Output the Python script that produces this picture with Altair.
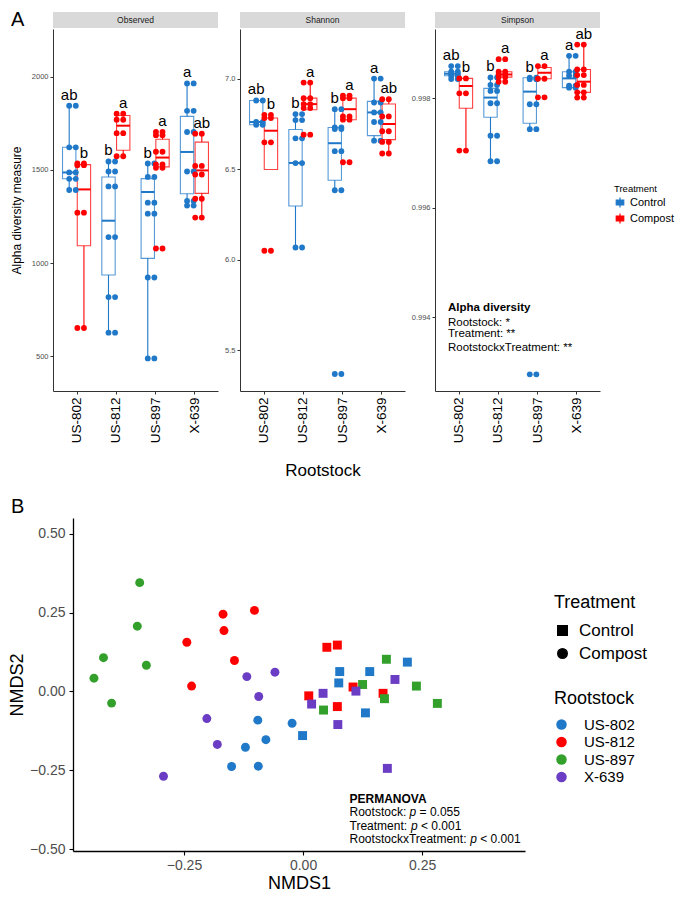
import json
import altair as alt
import pandas as pd

FONT = "Liberation Sans"
BLUE = "#1F78C8"
RED = "#FF0000"
GREEN = "#33A02C"
PURPLE = "#6A3DC4"

rootstocks = ["US-802", "US-812", "US-897", "X-639"]
treatments = ["Control", "Compost"]

letters_control = ["ab", "b", "b", "a"]
letters_compost = ["b", "a", "a", "ab"]

# ---------------- Panel A: alpha diversity ----------------
observed_control_points = [[1844, 1621, 1486, 1452, 1392],
                           [1545, 1491, 1411, 1139, 817, 626],
                           [1534, 1462, 1324, 1265, 922, 488],
                           [1964, 1817, 1703, 1491, 1333, 1308]]
observed_compost_points = [[1534, 1525, 1270, 651],
                           [1801, 1769, 1697, 1573],
                           [1704, 1686, 1597, 1529, 1511, 1078],
                           [1694, 1521, 1475, 1345, 1244]]
# box stats: q1, median, q3, lower whisker, upper whisker
observed_control_box = [[1452, 1486, 1621, 1392, 1844],
                        [936, 1227, 1462, 626, 1545],
                        [1025, 1381, 1453, 488, 1534],
                        [1372, 1596, 1787, 1308, 1964]]
observed_compost_box = [[1093, 1395, 1528, 651, 1534],
                        [1605, 1737, 1792, 1573, 1801],
                        [1516, 1566, 1664, 1511, 1704],
                        [1374, 1497, 1649, 1244, 1694]]

shannon_control_points = [[6.881, 6.762, 6.747],
                          [6.806, 6.773, 6.672, 6.535, 6.069],
                          [6.833, 6.732, 6.723, 6.601, 6.385, 5.37],
                          [7.002, 6.870, 6.815, 6.762, 6.659]]
shannon_compost_points = [[6.802, 6.784, 6.65, 6.051],
                          [6.980, 6.894, 6.861, 6.839, 6.692],
                          [6.908, 6.894, 6.793, 6.775, 6.54],
                          [6.888, 6.793, 6.711, 6.652, 6.588]]
shannon_control_box = [[6.747, 6.762, 6.881, 6.747, 6.881],
                       [6.298, 6.536, 6.721, 6.069, 6.806],
                       [6.44, 6.645, 6.732, 6.385, 6.833],
                       [6.687, 6.815, 6.876, 6.659, 7.002]]
shannon_compost_box = [[6.50, 6.714, 6.784, 6.50, 6.802],
                       [6.830, 6.861, 6.894, 6.830, 6.980],
                       [6.775, 6.833, 6.894, 6.775, 6.908],
                       [6.665, 6.751, 6.862, 6.588, 6.888]]

simpson_control_points = [[0.998589, 0.998485, 0.998449, 0.998413, 0.998353],
                          [0.998382, 0.998243, 0.998135, 0.997909, 0.997316, 0.996849],
                          [0.998376, 0.998350, 0.997891, 0.997436, 0.992953],
                          [0.998776, 0.998485, 0.998413, 0.998231, 0.998195]]
simpson_compost_points = [[0.998364, 0.998091, 0.997044],
                          [0.998716, 0.998485, 0.998436, 0.998388, 0.998303],
                          [0.998589, 0.998358, 0.998018],
                          [0.998982, 0.998527, 0.998425, 0.998244, 0.998109, 0.998013]]
simpson_control_box = [[0.998413, 0.998449, 0.998485, 0.998353, 0.998589],
                       [0.997655, 0.998013, 0.998182, 0.996849, 0.998382],
                       [0.997545, 0.998122, 0.998376, 0.997436, 0.998376],
                       [0.998195, 0.998364, 0.998485, 0.998195, 0.998776]]
simpson_compost_box = [[0.997818, 0.998225, 0.998364, 0.997044, 0.998364],
                       [0.998388, 0.998436, 0.998485, 0.998303, 0.998485],
                       [0.998358, 0.998467, 0.998564, 0.998358, 0.998589],
                       [0.998109, 0.998304, 0.998527, 0.998013, 0.998982]]

alpha_note_lines = ["Rootstock: *", "Treatment: **", "RootstockxTreatment: **"]

# ---------------- Panel B: NMDS ----------------
nmds1_control = [[-0.001, 0.077, 0.075, 0.140, 0.219, 0.131],
                 [0.050, 0.072, 0.012, 0.105, 0.168, 0.072],
                 [0.175, 0.125, 0.238, 0.171, 0.282, 0.043],
                 [0.042, 0.018, 0.111, 0.193, 0.073, 0.177]]
nmds2_control = [[-0.140, 0.063, 0.027, 0.063, 0.093, -0.068],
                 [0.140, 0.147, -0.014, 0.014, -0.006, -0.048],
                 [0.102, 0.022, 0.017, -0.023, -0.038, -0.059],
                 [-0.006, -0.040, 0.001, 0.038, -0.105, -0.244]]
nmds1_compost = [[-0.095, -0.023, -0.078, -0.121, -0.150, -0.094],
                 [-0.168, -0.102, -0.166, -0.244, -0.144, -0.234],
                 [-0.343, -0.348, -0.419, -0.329, -0.439, -0.402],
                 [-0.118, -0.059, -0.093, -0.202, -0.180, -0.293]]
nmds2_compost = [[-0.091, -0.101, -0.153, -0.177, -0.238, -0.237],
                 [0.245, 0.257, 0.193, 0.156, 0.098, 0.017],
                 [0.345, 0.207, 0.107, 0.083, 0.042, -0.037],
                 [0.047, 0.061, -0.016, -0.086, -0.168, -0.269]]

permanova_labels = ["Rootstock: ", "Treatment: ", "RootstockxTreatment: "]
permanova_values = ["= 0.055", "< 0.001", "< 0.001"]

# ---------------- build panel A ----------------
PW, PH = 165, 362
SHIFT = 20  # Observed panel extends this far left of the row origin
DODGE, HALF, JIT = 0.1875, 0.17, 0.02
cscale = alt.Scale(domain=treatments, range=[BLUE, RED])
label_expr = json.dumps(rootstocks) + "[datum.value - 1]"


def frames(ctrl_pts, comp_pts, ctrl_box, comp_box):
    box_rows, pt_rows = [], []
    for t, pts, box, lets in [("Control", ctrl_pts, ctrl_box, letters_control),
                              ("Compost", comp_pts, comp_box, letters_compost)]:
        sign = -1 if t == "Control" else 1
        for i, r in enumerate(rootstocks):
            c = i + 1
            xc = c + sign * DODGE
            q1, med, q3, lo, hi = box[i]
            box_rows.append(dict(rootstock=r, treatment=t, xc=xc, x1=xc - HALF, x2=xc + HALF,
                                 q1=q1, med=med, q3=q3, lo=lo, hi=hi,
                                 top=max([hi] + pts[i]), letter=lets[i]))
            for v in pts[i]:
                pt_rows.append(dict(rootstock=r, treatment=t, x=xc, value=v))
                pt_rows.append(dict(rootstock=r, treatment=t, x=c + sign * JIT, value=v))
    return pd.DataFrame(box_rows), pd.DataFrame(pt_rows)


def alpha_panel(name, ctrl_pts, comp_pts, ctrl_box, comp_box, domain, ticks, fmt,
                y_title=None, x_title=None, show_legend=False, panel_label=None, note=None,
                shift=0):
    boxes, pts = frames(ctrl_pts, comp_pts, ctrl_box, comp_box)
    w = PW - shift
    if shift:
        xs = alt.Scale(domain=[0.4, 4.6], nice=False, zero=False, range=[-shift, w])
    else:
        xs = alt.Scale(domain=[0.4, 4.6], nice=False, zero=False)
    ys = alt.Scale(domain=domain, nice=False, zero=False)
    xaxis = alt.Axis(values=[1, 2, 3, 4], labelExpr=label_expr, labelAngle=270,
                     labelFontSize=13.5, labelColor="black", labelPadding=3,
                     tickSize=3, tickColor="#333333", domainColor="#333333",
                     grid=False, title=x_title, titleFontSize=17,
                     titleFontWeight="normal", titlePadding=20, titleColor="black")
    yaxis = alt.Axis(values=ticks, format=fmt, labelFontSize=7.5, labelColor="#4D4D4D",
                     labelPadding=2, tickSize=3, tickColor="#333333",
                     domainColor="#333333", grid=False, title=y_title,
                     titleFontSize=12, titleFontWeight="normal", titleColor="black",
                     titlePadding=8, offset=shift)
    if show_legend:
        legend = alt.Legend(orient="none", legendX=w + 14, legendY=155, title="Treatment",
                            titleFontSize=9.5, titleFontWeight="normal", titleColor="black",
                            labelFontSize=11, labelColor="black", padding=0,
                            symbolType="M-0.75,-0.5H0.75V0.5H-0.75Z M-0.75,0H0.75 M0,-0.5V-1 M0,0.5V1",
                            symbolSize=100, symbolStrokeWidth=1.2, symbolFillColor="white",
                            rowPadding=0, titlePadding=3, labelOffset=4)
    else:
        legend = None

    lab = pd.DataFrame({"label": [name]})
    strip = alt.Chart(lab).mark_rect(fill="#D9D9D9").encode(
        x=alt.value(-shift), x2=alt.value(w), y=alt.value(-17), y2=alt.value(-1))
    strip_text = alt.Chart(lab).mark_text(fontSize=8.5, color="#1A1A1A").encode(
        x=alt.value((w - shift) / 2), y=alt.value(-9), text="label:N")

    bb = alt.Chart(boxes)
    col = alt.Color("treatment:N", scale=cscale, legend=None)
    rect = bb.mark_rect(fill="white", strokeWidth=1.1, strokeOpacity=0.75).encode(
        x=alt.X("x1:Q", scale=xs, axis=xaxis), x2="x2:Q",
        y=alt.Y("q1:Q", scale=ys, axis=yaxis), y2="q3:Q",
        stroke=alt.Stroke("treatment:N", scale=cscale, legend=legend))
    upper = bb.mark_rule(strokeWidth=1.1).encode(x="xc:Q", y="q3:Q", y2="hi:Q", color=col)
    lower = bb.mark_rule(strokeWidth=1.1).encode(x="xc:Q", y="lo:Q", y2="q1:Q", color=col)
    median = bb.mark_rule(strokeWidth=2).encode(x="x1:Q", x2="x2:Q", y="med:Q", color=col)
    points = alt.Chart(pts).mark_circle(size=34, opacity=1).encode(
        x="x:Q", y="value:Q", color=col)
    letters = bb.mark_text(baseline="bottom", dy=-3, fontSize=15, color="black").encode(
        x="xc:Q", y="top:Q", text="letter:N")
    layers = [strip, strip_text, rect, upper, lower, median, points, letters]
    if panel_label:
        layers.append(alt.Chart(pd.DataFrame({"t": [panel_label]})).mark_text(
            fontSize=20, align="left", baseline="middle", color="black").encode(
            x=alt.value(-shift - 42), y=alt.value(-9), text="t:N"))
    if note:
        layers += note
    return alt.layer(*layers).properties(width=w, height=PH)


# Simpson annotation (data coordinates)
note_title = alt.Chart(pd.DataFrame({"x": [0.73], "y": [0.994158], "t": ["Alpha diversity"]})).mark_text(
    align="left", baseline="middle", fontSize=11.5, fontWeight="bold", color="black").encode(
    x="x:Q", y="y:Q", text="t:N")
note_body = alt.Chart(pd.DataFrame({"x": [0.73] * 3, "y": [0.993884, 0.993684, 0.993429],
                                    "t": alpha_note_lines})).mark_text(
    align="left", baseline="middle", fontSize=11.5, color="black").encode(
    x="x:Q", y="y:Q", text="t:N")

obs = alpha_panel("Observed", observed_control_points, observed_compost_points,
                  observed_control_box, observed_compost_box, [313, 2256],
                  [500, 1000, 1500, 2000], "d", y_title="Alpha diversity measure",
                  panel_label="A", shift=SHIFT)
sha = alpha_panel("Shannon", shannon_control_points, shannon_compost_points,
                  shannon_control_box, shannon_compost_box, [5.276, 7.276],
                  [5.5, 6.0, 6.5, 7.0], ".1f", x_title="Rootstock")
sim = alpha_panel("Simpson", simpson_control_points, simpson_compost_points,
                  simpson_control_box, simpson_compost_box, [0.992649, 0.999267],
                  [0.994, 0.996, 0.998], ".3f", show_legend=True,
                  note=[note_title, note_body])

left_pair = alt.hconcat(obs, sha, spacing=6 - SHIFT).resolve_scale(
    color="independent", stroke="independent")
top = alt.hconcat(left_pair, sim, spacing=6).resolve_scale(
    color="independent", stroke="independent")

# ---------------- build panel B ----------------
rows = []
for t, xs_, ys_ in [("Control", nmds1_control, nmds2_control),
                    ("Compost", nmds1_compost, nmds2_compost)]:
    for i, r in enumerate(rootstocks):
        for a, b in zip(xs_[i], ys_[i]):
            rows.append(dict(NMDS1=a, NMDS2=b, Rootstock=r, Treatment=t))
nmds_df = pd.DataFrame(rows)

NW, NH = 452, 333
ax_common = dict(labelFontSize=14, labelColor="#4D4D4D", tickSize=4, tickColor="black",
                 domainColor="black", domainWidth=1.3, tickWidth=1.1, grid=False,
                 titleFontSize=18, titleFontWeight="normal", titleColor="black")
pts_b = alt.Chart(nmds_df).mark_point(filled=True, opacity=1, size=80).encode(
    x=alt.X("NMDS1:Q", scale=alt.Scale(domain=[-0.483, 0.466], nice=False, zero=False),
            axis=alt.Axis(values=[-0.25, 0, 0.25], format=".2f", labelPadding=3,
                          titlePadding=2, title="NMDS1", **ax_common)),
    y=alt.Y("NMDS2:Q", scale=alt.Scale(domain=[-0.506, 0.55], nice=False, zero=False),
            axis=alt.Axis(values=[-0.5, -0.25, 0, 0.25, 0.5], format=".2f", labelPadding=4,
                          titlePadding=3, title="NMDS2", **ax_common)),
    color=alt.Color("Rootstock:N", scale=alt.Scale(domain=rootstocks, range=[BLUE, RED, GREEN, PURPLE]),
                    legend=alt.Legend(orient="none", legendX=481, legendY=172, title="Rootstock",
                                      titleFontSize=18, titleFontWeight="normal", titleColor="black",
                                      labelFontSize=15, labelColor="black", symbolType="circle",
                                      symbolSize=110, labelOffset=15, rowPadding=1.5,
                                      titlePadding=9, padding=0)),
    shape=alt.Shape("Treatment:N", scale=alt.Scale(domain=treatments, range=["square", "circle"]),
                    legend=alt.Legend(orient="none", legendX=481, legendY=76, title="Treatment",
                                      titleFontSize=18, titleFontWeight="normal", titleColor="black",
                                      labelFontSize=17, labelColor="black", symbolSize=90,
                                      symbolFillColor="black", symbolStrokeColor="black",
                                      labelOffset=8, rowPadding=5, titlePadding=10, padding=0)),
)

lab_b = alt.Chart(pd.DataFrame({"t": ["B"]})).mark_text(
    fontSize=20, align="left", baseline="middle", color="black").encode(
    x=alt.value(-62), y=alt.value(-11), text="t:N")

perm_x = 0.0976
perm_y = [-0.383, -0.427, -0.467]
perm_title = alt.Chart(pd.DataFrame({"x": [perm_x], "y": [-0.340], "t": ["PERMANOVA"]})).mark_text(
    align="left", baseline="middle", fontSize=12, fontWeight="bold", color="black").encode(
    x="x:Q", y="y:Q", text="t:N")
perm_layers = [perm_title]
p_dx = [60.0, 61.4, 120.7]
for i in range(3):
    d = pd.DataFrame({"x": [perm_x], "y": [perm_y[i]], "a": [permanova_labels[i]],
                      "p": ["p"], "b": [permanova_values[i]]})
    base = alt.Chart(d)
    perm_layers.append(base.mark_text(align="left", baseline="middle", fontSize=12,
                                      color="black").encode(x="x:Q", y="y:Q", text="a:N"))
    perm_layers.append(base.mark_text(align="left", baseline="middle", fontSize=12,
                                      fontStyle="italic", color="black", dx=p_dx[i]).encode(
        x="x:Q", y="y:Q", text="p:N"))
    perm_layers.append(base.mark_text(align="left", baseline="middle", fontSize=12,
                                      color="black", dx=p_dx[i] + 10).encode(
        x="x:Q", y="y:Q", text="b:N"))

nmds = alt.layer(pts_b, lab_b, *perm_layers).properties(width=NW, height=NH)

chart = alt.concat(top, nmds, columns=1, spacing=18, align="none").resolve_scale(
    color="independent", stroke="independent", shape="independent"
).properties(padding={"left": 0, "top": 2, "right": 0, "bottom": 0}
).configure(font=FONT).configure_view(stroke=None)

chart.save("out.html", embed_options={"renderer": "svg", "actions": False})
